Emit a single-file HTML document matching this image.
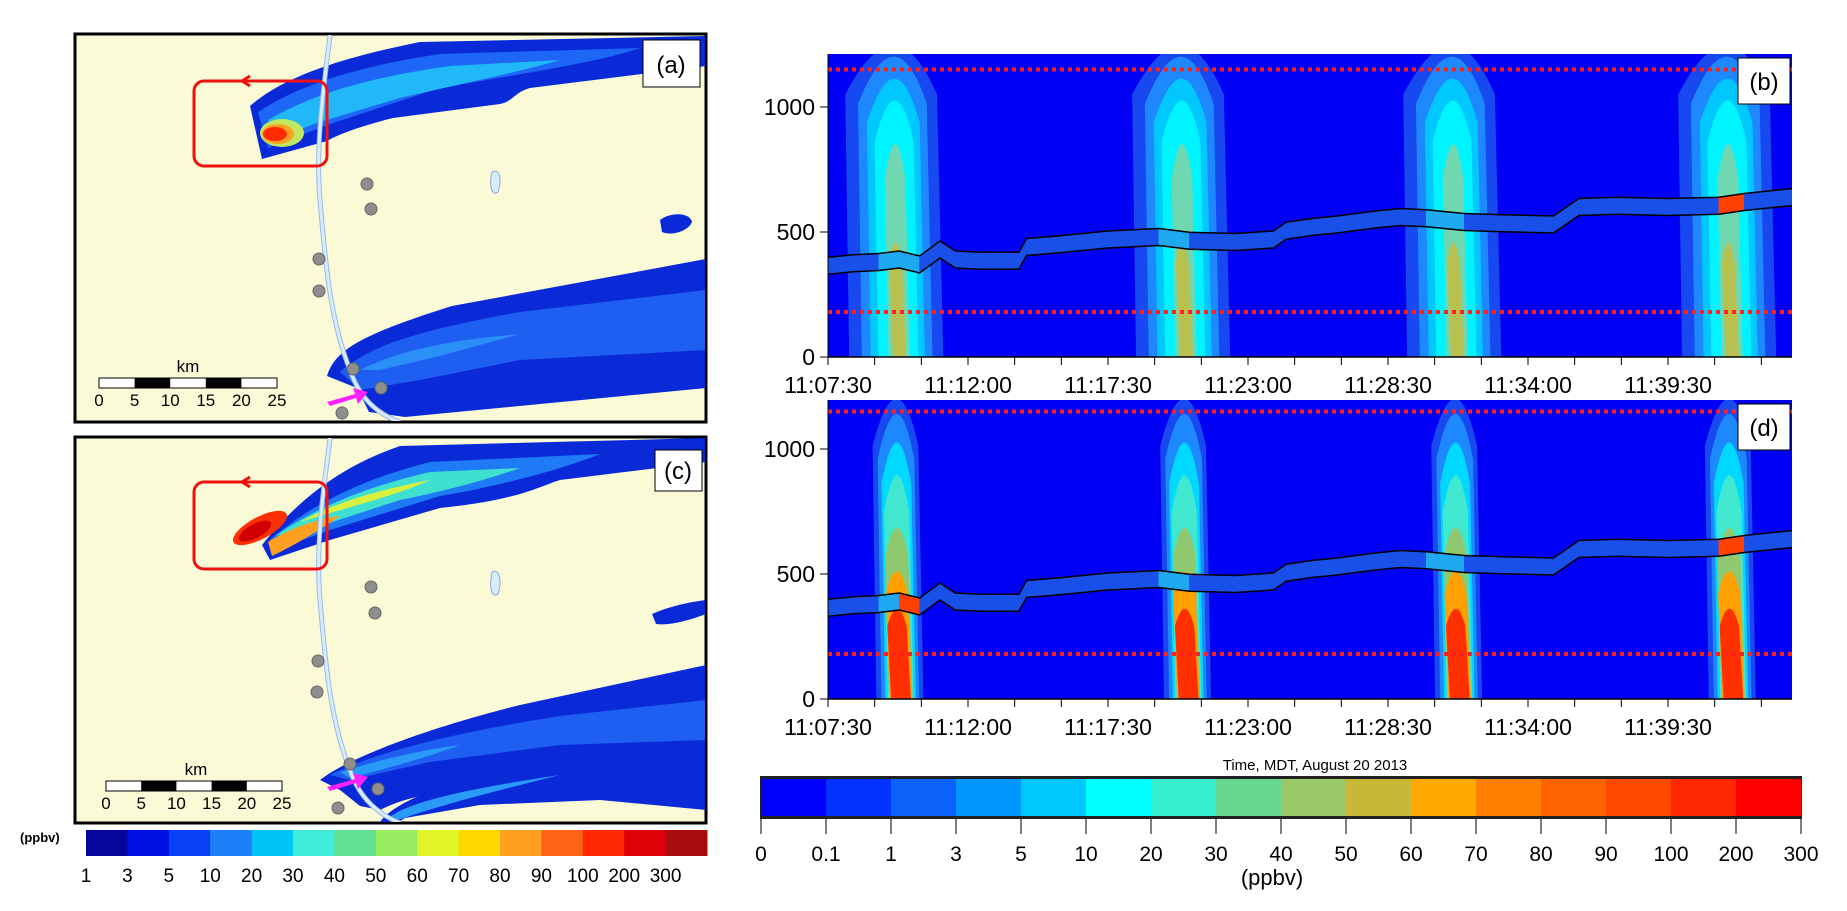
<!DOCTYPE html>
<html><head><meta charset="utf-8"><style>
body{margin:0;background:#fff;}
svg{display:block;font-family:"Liberation Sans",sans-serif;}
</style></head><body>
<svg id="fig" width="1847" height="911" viewBox="0 0 1847 911" xmlns="http://www.w3.org/2000/svg">
<defs>
<clipPath id="clipA"><rect x="76" y="35" width="629" height="386"/></clipPath>
<clipPath id="clipC"><rect x="76" y="438" width="629" height="384"/></clipPath>
<clipPath id="clipB"><rect x="828" y="54" width="964" height="303"/></clipPath>
<clipPath id="clipD"><rect x="828" y="400" width="964" height="299"/></clipPath>
</defs>

<!-- Map panel (a) -->
<g>
<rect x="75" y="34" width="631" height="388" fill="#fafbd6" stroke="#000" stroke-width="3"/>
<g clip-path="url(#clipA)">
 <path d="M250,106 C280,80 330,60 420,42 L706,36 L706,66 L530,88 C515,92 512,102 500,104 L393,118 C360,126 335,136 327,141 L262,159 Z" fill="#0a2ad8"/>
 <path d="M258,112 C300,84 360,66 440,54 L640,48 C600,62 520,74 440,88 L330,124 L268,148 Z" fill="#1e66f5"/>
 <path d="M268,120 C320,90 380,76 450,66 L560,60 C520,72 460,84 400,98 L320,122 L276,138 Z" fill="#20b8f8"/>
 <ellipse cx="282" cy="133" rx="22" ry="14" fill="#c0e860"/>
 <ellipse cx="278" cy="134" rx="16" ry="10" fill="#ffa020"/>
 <ellipse cx="275" cy="134" rx="12" ry="7" fill="#ff2a00"/>
 <path d="M327,376 C335,350 360,335 452,306 L706,259 L706,388 L405,417 L369,412 L357,388 Z" fill="#0a2ad8"/>
 <path d="M340,372 C370,345 420,330 520,312 L706,290 L706,350 L520,360 L420,380 L360,390 Z" fill="#1e5ef0"/>
 <path d="M360,370 C400,350 450,340 520,334 L440,356 L380,370 Z" fill="#2a90f8"/>
 <path d="M330,35 C325,80 315,140 320,200 C325,260 330,320 350,370 C360,400 380,415 400,422" fill="none" stroke="#9ab8e8" stroke-width="5"/>
 <path d="M330,35 C325,80 315,140 320,200 C325,260 330,320 350,370 C360,400 380,415 400,422" fill="none" stroke="#d8ecfc" stroke-width="3"/>
 <path d="M492,172 C500,168 502,180 498,192 C494,196 488,190 492,172Z" fill="#d8ecfc" stroke="#8aa8e0"/>
 <path d="M660,220 C670,212 690,212 692,222 C688,232 670,236 662,232Z" fill="#0a2ad8"/>
 <circle cx="367" cy="184" r="6" fill="#8e8e8e" stroke="#666"/>
 <circle cx="371" cy="209" r="6" fill="#8e8e8e" stroke="#666"/>
 <circle cx="319" cy="259" r="6" fill="#8e8e8e" stroke="#666"/>
 <circle cx="319" cy="291" r="6" fill="#8e8e8e" stroke="#666"/>
 <circle cx="353" cy="369" r="6" fill="#8e8e8e" stroke="#666"/>
 <circle cx="381" cy="388" r="6" fill="#8e8e8e" stroke="#666"/>
 <circle cx="342" cy="413" r="6" fill="#8e8e8e" stroke="#666"/>
</g>
<rect x="194" y="81" width="133" height="85" rx="10" fill="none" stroke="#f01010" stroke-width="3"/>
<path d="M253,81 L243,81 M250,76 L242,81 L250,86" stroke="#f01010" stroke-width="3" fill="none"/>
<path d="M327,402 L355,394 L353,388 L368,392 L358,404 L356,398 L330,406 Z" fill="#ff20ff"/>
<g>
 <text x="188" y="372" font-size="17" text-anchor="middle">km</text>
 <rect x="99" y="378" width="178" height="10" fill="#fff" stroke="#000"/>
 <rect x="134.6" y="378" width="35.6" height="10" fill="#000"/>
 <rect x="205.8" y="378" width="35.6" height="10" fill="#000"/>
 <g font-size="17" text-anchor="middle"><text x="99" y="406">0</text><text x="134.6" y="406">5</text><text x="170.2" y="406">10</text><text x="205.8" y="406">15</text><text x="241.4" y="406">20</text><text x="277" y="406">25</text></g>
</g>
<rect x="643" y="40" width="57" height="47" fill="#fff" stroke="#000"/>
<text x="671" y="73" font-size="24" text-anchor="middle">(a)</text>
</g>

<!-- Map panel (c) -->
<g>
<rect x="75" y="437" width="631" height="386" fill="#fafbd6" stroke="#000" stroke-width="3"/>
<g clip-path="url(#clipC)">
 <path d="M262,545 C290,510 330,470 400,446 L706,438 L706,462 L560,480 C540,486 520,500 440,508 L330,540 L270,560 Z" fill="#0a2ad8"/>
 <path d="M270,540 C310,505 360,480 430,462 L600,454 C560,470 500,486 440,496 L330,530 L275,550 Z" fill="#1e7af5"/>
 <path d="M275,536 C320,505 370,486 430,472 L520,468 C480,482 440,492 400,500 L320,526 Z" fill="#40e0d0"/>
 <path d="M300,522 C340,500 380,490 430,480 C400,494 360,504 320,516 Z" fill="#d8f040"/>
 <path d="M268,542 C290,528 320,518 340,516 C320,530 295,545 272,556 Z" fill="#ffa020"/>
 <ellipse cx="260" cy="528" rx="30" ry="11" transform="rotate(-28 260 528)" fill="#ff3000"/>
 <ellipse cx="255" cy="531" rx="18" ry="7" transform="rotate(-28 255 531)" fill="#d00000"/>
 <path d="M320,780 C345,760 420,730 520,705 L706,665 L706,770 L560,800 L460,788 C420,795 400,800 380,810 L360,806 L340,790 Z" fill="#0a2ad8"/>
 <path d="M330,775 C370,755 440,735 560,716 L706,700 L706,740 L560,745 L430,762 L350,780 Z" fill="#1e5ef0"/>
 <path d="M340,772 C380,760 420,750 460,745 C420,760 380,770 350,778 Z" fill="#2a9af8"/>
 <path d="M380,822 C390,808 420,790 500,770 L706,752 L706,810 L600,800 L480,805 L405,818 L395,824 Z" fill="#0a2ad8"/>
 <path d="M388,818 C410,802 460,790 560,775 C500,790 440,805 398,820 Z" fill="#2a9af8"/>
 <path d="M330,438 C325,480 315,540 320,600 C325,660 330,720 350,770 C360,800 380,815 400,823" fill="none" stroke="#9ab8e8" stroke-width="5"/>
 <path d="M330,438 C325,480 315,540 320,600 C325,660 330,720 350,770 C360,800 380,815 400,823" fill="none" stroke="#d8ecfc" stroke-width="3"/>
 <path d="M492,572 C500,568 502,582 498,594 C494,598 488,592 492,572Z" fill="#d8ecfc" stroke="#8aa8e0"/>
 <path d="M652,614 C670,606 690,602 706,600 L706,614 C690,620 670,626 656,624Z" fill="#0a2ad8"/>
 <circle cx="371" cy="587" r="6" fill="#8e8e8e" stroke="#666"/>
 <circle cx="375" cy="613" r="6" fill="#8e8e8e" stroke="#666"/>
 <circle cx="318" cy="661" r="6" fill="#8e8e8e" stroke="#666"/>
 <circle cx="317" cy="692" r="6" fill="#8e8e8e" stroke="#666"/>
 <circle cx="350" cy="764" r="6" fill="#8e8e8e" stroke="#666"/>
 <circle cx="378" cy="789" r="6" fill="#8e8e8e" stroke="#666"/>
 <circle cx="338" cy="808" r="6" fill="#8e8e8e" stroke="#666"/>
</g>
<rect x="194" y="482" width="133" height="87" rx="10" fill="none" stroke="#f01010" stroke-width="3"/>
<path d="M253,482 L243,482 M250,477 L242,482 L250,487" stroke="#f01010" stroke-width="3" fill="none"/>
<path d="M327,787 L355,779 L353,773 L368,777 L358,789 L356,783 L330,791 Z" fill="#ff20ff"/>
<g>
 <text x="196" y="775" font-size="17" text-anchor="middle">km</text>
 <rect x="106" y="781" width="176" height="10" fill="#fff" stroke="#000"/>
 <rect x="141.2" y="781" width="35.2" height="10" fill="#000"/>
 <rect x="211.6" y="781" width="35.2" height="10" fill="#000"/>
 <g font-size="17" text-anchor="middle"><text x="106" y="809">0</text><text x="141.2" y="809">5</text><text x="176.4" y="809">10</text><text x="211.6" y="809">15</text><text x="246.8" y="809">20</text><text x="282" y="809">25</text></g>
</g>
<rect x="655" y="450" width="47" height="41" fill="#fff" stroke="#000"/>
<text x="678" y="479" font-size="24" text-anchor="middle">(c)</text>
</g>

<g id="smallcb">
<text x="20" y="842" font-size="13" font-weight="bold">(ppbv)</text>
</g>

<g id="panelB"></g>
<g id="panelD"></g>
<text x="1315" y="770" font-size="15" text-anchor="middle">Time, MDT, August 20 2013</text>
<g id="bigcb"></g>
<text x="1272" y="885" font-size="22" text-anchor="middle">(ppbv)</text>
</svg>

<script>
const NS='http://www.w3.org/2000/svg';
// ---- data ----
const timeTickLabels=['11:07:30','11:12:00','11:17:30','11:23:00','11:28:30','11:34:00','11:39:30'];
const yTickValues=[0,500,1000];
const plumeTimesB=[2.83,14.1,24.75,35.55];
const plumeTimesD=[2.9,14.2,24.85,35.6];
const trackTimes=[0,1,2,2.8,3.6,4.4,5.0,6,7.5,7.8,9,11,13,14.2,16,17.5,18,19,20,21.5,22.5,23.5,25,26.5,28.5,29.5,31,33,35,36,37.9];
const trackAlt=[365,375,380,390,370,430,390,385,385,440,450,470,480,465,460,470,505,520,530,550,560,555,540,535,530,600,605,600,605,620,640];
const boundaryLayerLow=[180];
const boundaryLayerHigh=[1150];
const mainCbLabels=['0','0.1','1','3','5','10','20','30','40','50','60','70','80','90','100','200','300'];
const mainCbColors=['#0000ff','#0432ff','#0a62fa','#0096ff','#00c8ff','#00ffff','#38f0d0','#68d890','#98c868','#c8b838','#ffa800','#ff8000','#ff6400','#ff4800','#ff2800','#ff0000'];
const mapCbLabels=['1','3','5','10','20','30','40','50','60','70','80','90','100','200','300'];
const mapCbColors=['#06069a','#0010e0','#0a40f4','#1e80f8','#00c4f4','#40ecdc','#60e090','#98ec60','#e0f428','#ffd800','#ffa020','#ff6414','#ff2800','#e00008','#a80c0c'];
// column layers: half width (min), top altitude, colour
const layersB=[[2.0,1400,'#1848f0'],[1.5,1350,'#1e88ff'],[1.15,1250,'#00c8ff'],[0.85,1150,'#00f4ff'],[0.45,950,'#70d8b0'],[0.28,500,'#b8c050']];
const layersD=[[1.0,1350,'#1848f0'],[0.8,1280,'#1e88ff'],[0.65,1150,'#00d8ff'],[0.55,1000,'#40e8d0'],[0.5,760,'#90c870'],[0.48,560,'#ffa000'],[0.42,390,'#ff3000']];

function el(tag,attrs,parent){const e=document.createElementNS(NS,tag);for(const k in attrs)e.setAttribute(k,attrs[k]);parent.appendChild(e);return e;}
const X0=828, PXMIN=140/5.5;
function xs(t){return X0+t*PXMIN;}

function drawPanel(gid,top,bottom,plumes,layers,label,clip){
  const g=document.getElementById(gid);
  const ys=v=>bottom-v*0.25;
  el('rect',{x:828,y:top,width:964,height:bottom-top,fill:'#0000f4'},g);
  const cg=el('g',{'clip-path':'url(#'+clip+')'},g);
  plumes.forEach((pt,pi)=>{
    layers.forEach((L,li)=>{
      const w=L[0], tp=L[1];
      const lean=0.15;
      const xl=xs(pt-w), xr=xs(pt+w*0.85);
      const yt=ys(tp), ym=ys(tp*0.75);
      const p=el('path',{d:`M${xl},${bottom} L${xr},${bottom} L${xs(pt+w*0.8-lean)},${ym} Q${xs(pt-lean*1.2)},${yt-10} ${xs(pt-w-lean)},${ym} Z`,fill:L[2]},cg);
      
      
    });
  });
  [boundaryLayerLow[0],boundaryLayerHigh[0]].forEach(v=>{
    const l=el('line',{x1:828,x2:1792,y1:ys(v),y2:ys(v),stroke:'#ff2020','stroke-width':4,'stroke-dasharray':'4 4'},g);
    
    
  });
  const half=34;
  for(let i=0;i<trackTimes.length-1;i++){
    const t0=trackTimes[i],t1=trackTimes[i+1];
    const tm=(t0+t1)/2;
    let d=Math.min(...plumes.map(p=>Math.abs(p-tm)));
    let c=d<0.35?'#ff4000':(d<0.8?'#20a8f0':'#1a50ea');
    const s=el('polygon',{points:`${xs(t0)},${ys(trackAlt[i]+half)} ${xs(t1)},${ys(trackAlt[i+1]+half)} ${xs(t1)},${ys(trackAlt[i+1]-half)} ${xs(t0)},${ys(trackAlt[i]-half)}`,fill:c,stroke:c,'stroke-width':0.6},cg);
    
    
  }
  const up=trackTimes.map((t,i)=>xs(t)+','+ys(trackAlt[i]+half)).join(' ');
  const lo=trackTimes.map((t,i)=>xs(t)+','+ys(trackAlt[i]-half)).join(' ');
  el('polyline',{points:up,fill:'none',stroke:'#000','stroke-width':1.5},cg);
  el('polyline',{points:lo,fill:'none',stroke:'#000','stroke-width':1.5},cg);
  el('line',{x1:828,x2:1792,y1:bottom,y2:bottom,stroke:'#000','stroke-width':1.5},g);
  el('line',{x1:828,x2:828,y1:top,y2:bottom,stroke:'#000','stroke-width':1},g);
  for(let k=0;k<=20;k++){const x=X0+k*140/3;if(x>1792)break;el('line',{x1:x,x2:x,y1:bottom,y2:bottom+8,stroke:'#000'},g);}
  timeTickLabels.forEach((s,i)=>{
    const t=el('text',{x:X0+i*140,y:bottom+36,'font-size':23,'text-anchor':'middle'},g);t.textContent=s;
    
    
  });
  yTickValues.forEach(v=>{
    el('line',{x1:820,x2:828,y1:ys(v),y2:ys(v),stroke:'#000'},g);
    const t=el('text',{x:815,y:ys(v)+8,'font-size':23,'text-anchor':'end'},g);t.textContent=v;
    
    
  });
  el('rect',{x:1738,y:top+4,width:52,height:46,fill:'#fff',stroke:'#000'},g);
  const lt=el('text',{x:1764,y:top+36,'font-size':24,'text-anchor':'middle'},g);lt.textContent=label;
  
  
}
drawPanel('panelB',54,357,plumeTimesB,layersB,'(b)','clipB');
drawPanel('panelD',400,699,plumeTimesD,layersD,'(d)','clipD');

(function(){
  const g=document.getElementById('bigcb');
  const x0=761,w=65,y0=779,h=37;
  el('rect',{x:x0-1,y:y0-3,width:w*16+2,height:h+6,fill:'#222'},g);
  mainCbColors.forEach((c,i)=>{
    const r=el('rect',{x:x0+i*w,y:y0,width:w+0.5,height:h,fill:c},g);
    
    
  });
  mainCbLabels.forEach((s,i)=>{
    el('line',{x1:x0+i*w,x2:x0+i*w,y1:y0+h+3,y2:y0+h+18,stroke:'#000'},g);
    const t=el('text',{x:x0+i*w,y:861,'font-size':21,'text-anchor':'middle'},g);t.textContent=s;
    
    
  });
})();
(function(){
  const g=document.getElementById('smallcb');
  const x0=86,w=41.4,y0=830,h=26;
  mapCbColors.forEach((c,i)=>{
    const r=el('rect',{x:x0+i*w,y:y0,width:w+0.5,height:h,fill:c},g);
    
    
  });
  mapCbLabels.forEach((s,i)=>{
    const t=el('text',{x:x0+i*w,y:882,'font-size':19,'text-anchor':'middle'},g);t.textContent=s;
    
    
  });
})();
</script>
</body></html>
